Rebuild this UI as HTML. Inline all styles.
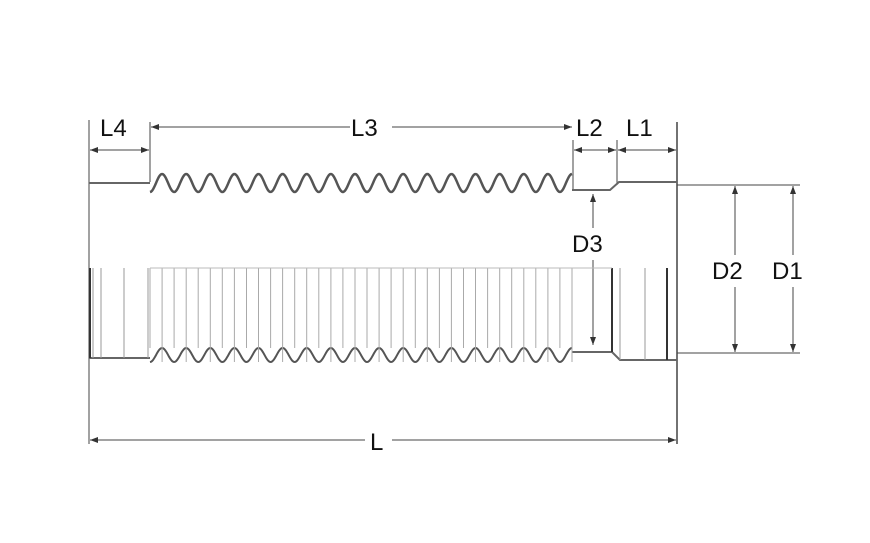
<!DOCTYPE html>
<html><head><meta charset="utf-8"><style>
html,body{margin:0;padding:0;background:#fff;width:870px;height:543px;overflow:hidden}
text{font-family:"Liberation Sans",sans-serif;font-size:24px;fill:#111}
</style></head><body>
<svg id="s" width="870" height="543" viewBox="0 0 870 543" xmlns="http://www.w3.org/2000/svg">
<defs><marker id="a" markerWidth="8" markerHeight="6" refX="8" refY="3" orient="auto-start-reverse" markerUnits="userSpaceOnUse"><path d="M0,0 L8,3 L0,6z" fill="#333"/></marker></defs>
<g stroke="#444" stroke-width="1" fill="none">
<line x1="89" y1="120" x2="89" y2="444"/>
<line x1="677" y1="122" x2="677" y2="444" stroke-width="1.5"/>
<line x1="150" y1="122" x2="150" y2="182"/>
<line x1="573" y1="140" x2="573" y2="190"/>
<line x1="617" y1="140" x2="617" y2="185"/>
<line x1="90" y1="150" x2="149" y2="150" marker-start="url(#a)" marker-end="url(#a)"/>
<line x1="151" y1="127" x2="350" y2="127" marker-start="url(#a)"/>
<line x1="392" y1="127" x2="572" y2="127" marker-end="url(#a)"/>
<line x1="574" y1="150" x2="616" y2="150" marker-start="url(#a)" marker-end="url(#a)"/>
<line x1="618" y1="150" x2="676" y2="150" marker-start="url(#a)" marker-end="url(#a)"/>
<line x1="90" y1="440" x2="365" y2="440" marker-start="url(#a)"/>
<line x1="392" y1="440" x2="676" y2="440" marker-end="url(#a)"/>
<line x1="677" y1="185" x2="800" y2="185"/>
<line x1="677" y1="353" x2="800" y2="353"/>
<line x1="735" y1="186" x2="735" y2="255" marker-start="url(#a)"/>
<line x1="735" y1="287" x2="735" y2="352" marker-end="url(#a)"/>
<line x1="793" y1="186" x2="793" y2="255" marker-start="url(#a)"/>
<line x1="793" y1="287" x2="793" y2="352" marker-end="url(#a)"/>
<line x1="593" y1="194" x2="593" y2="228" marker-start="url(#a)"/>
<line x1="593" y1="260" x2="593" y2="345" marker-end="url(#a)"/>
<path d="M89,183 L150,183" stroke-width="2" stroke="#666"/>
<path d="M572,190 L610,190 L619,182 L677,182" stroke-width="2" stroke="#666"/>
<path d="M89,358 L150,358" stroke-width="2" stroke="#666"/>
<path d="M572,352 L612,352 L620,360 L677,360" stroke-width="2" stroke="#666"/>
<g stroke="#999">
<line x1="93" y1="268" x2="93" y2="358"/><line x1="101" y1="268" x2="101" y2="358"/>
<line x1="124" y1="268" x2="124" y2="358"/><line x1="148" y1="268" x2="148" y2="358"/>
<line x1="612" y1="268" x2="612" y2="352" stroke="#333" stroke-width="2"/>
<line x1="620" y1="268" x2="620" y2="360"/><line x1="645" y1="268" x2="645" y2="360"/>
<line x1="667" y1="268" x2="667" y2="360" stroke="#333" stroke-width="2"/>
<line x1="90" y1="268" x2="90" y2="358" stroke="#333" stroke-width="2"/>
</g>
<g id="w"></g>
</g>
<text x="100" y="136">L4</text>
<text x="351" y="136">L3</text>
<text x="576" y="136">L2</text>
<text x="626" y="136">L1</text>
<text x="370" y="450">L</text>
<text x="572" y="252">D3</text>
<text x="712" y="279">D2</text>
<text x="772" y="279">D1</text>
</svg>
<script>
var g=document.getElementById('w'),ns='http://www.w3.org/2000/svg';
var x0=150,x1=572,n=17.5,P=(x1-x0)/n;
var t='',b='';
for(var x=x0;x<=x1;x+=1){var ph=(x-x0)/P*2*Math.PI;
t+=(x==x0?'M':'L')+x+','+(183+9*Math.sin(ph-Math.PI/2)*-1).toFixed(1);
b+=(x==x0?'M':'L')+x+','+(355+7*Math.cos(ph)).toFixed(1);}
function p(d,w,c){var e=document.createElementNS(ns,'path');e.setAttribute('d',d);e.setAttribute('stroke-width',w);e.setAttribute('stroke',c);g.appendChild(e);}
p(t,2.5,'#555');p(b,2,'#555');
var v='';for(var i=0;i<=n*2;i++){var x=x0+i*P/2;v+='M'+x.toFixed(1)+',268L'+x.toFixed(1)+','+(i%2?362:348);}
p(v,1,'#aaa');
p('M150,268L612,268',1,'#bbb');
</script>
</body></html>
